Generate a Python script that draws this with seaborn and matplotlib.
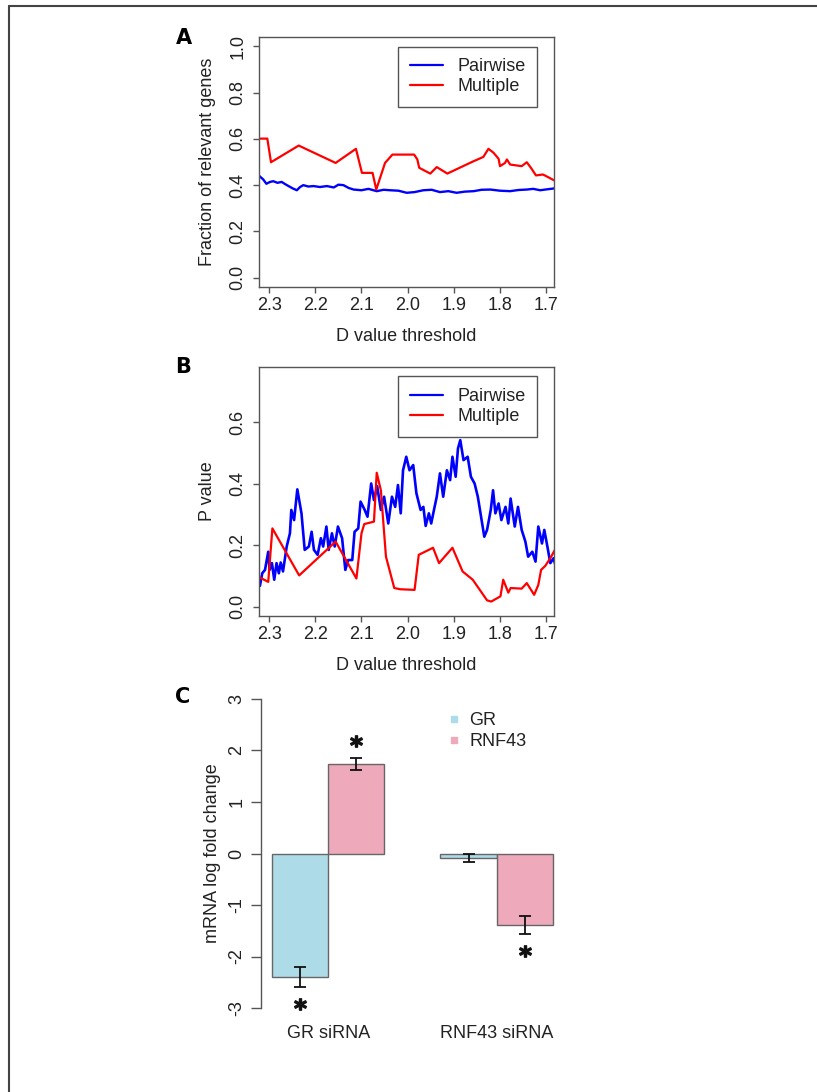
import numpy as np
import pandas as pd
import matplotlib
matplotlib.use("Agg")
import matplotlib.pyplot as plt
import seaborn as sns
from matplotlib.lines import Line2D

# ------------------------------------------------------------
# data
# ------------------------------------------------------------
# panel A - fraction of relevant genes
a_pair_x = [2.321, 2.313, 2.306, 2.298, 2.291, 2.282, 2.273, 2.265, 2.258, 2.249,
            2.240, 2.233, 2.226, 2.215, 2.204, 2.190, 2.175, 2.160, 2.150, 2.139,
            2.128, 2.117, 2.100, 2.085, 2.067, 2.052, 2.038, 2.020, 2.002, 1.985,
            1.966, 1.948, 1.930, 1.912, 1.894, 1.876, 1.857, 1.840, 1.821, 1.800,
            1.778, 1.760, 1.742, 1.728, 1.713, 1.698, 1.682]
a_pair_y = [0.439, 0.425, 0.406, 0.414, 0.417, 0.410, 0.414, 0.404, 0.396, 0.386,
            0.378, 0.392, 0.400, 0.394, 0.396, 0.392, 0.396, 0.390, 0.402, 0.400,
            0.388, 0.381, 0.378, 0.384, 0.374, 0.380, 0.378, 0.376, 0.367, 0.370,
            0.378, 0.380, 0.370, 0.374, 0.367, 0.372, 0.374, 0.380, 0.381, 0.376,
            0.374, 0.379, 0.381, 0.384, 0.378, 0.382, 0.386]
a_mult_x = [2.321, 2.304, 2.296, 2.236, 2.156, 2.112, 2.099, 2.076, 2.068, 2.049,
            2.033, 1.986, 1.979, 1.975, 1.951, 1.937, 1.914, 1.862, 1.836, 1.825,
            1.814, 1.803, 1.800, 1.789, 1.785, 1.778, 1.753, 1.742, 1.733, 1.722,
            1.707, 1.700, 1.682]
a_mult_y = [0.601, 0.601, 0.499, 0.571, 0.496, 0.557, 0.453, 0.453, 0.381, 0.496,
            0.532, 0.532, 0.511, 0.475, 0.450, 0.478, 0.450, 0.499, 0.522, 0.557,
            0.540, 0.514, 0.482, 0.496, 0.511, 0.489, 0.482, 0.499, 0.475, 0.442,
            0.446, 0.439, 0.420]

# panel B - P value
b_pair_x = [2.320, 2.315, 2.309, 2.302, 2.299, 2.294, 2.289, 2.284, 2.279, 2.275,
            2.270, 2.262, 2.255, 2.252, 2.246, 2.239, 2.230, 2.223, 2.214, 2.208,
            2.203, 2.195, 2.188, 2.183, 2.176, 2.171, 2.164, 2.158, 2.151, 2.142,
            2.135, 2.129, 2.120, 2.115, 2.107, 2.102, 2.093, 2.087, 2.079, 2.073,
            2.066, 2.058, 2.051, 2.042, 2.034, 2.027, 2.021, 2.015,
            2.010, 2.003, 1.996, 1.988, 1.981, 1.972, 1.966, 1.961, 1.954, 1.949,
            1.943, 1.937, 1.930, 1.923, 1.915, 1.908, 1.903, 1.896, 1.891, 1.886,
            1.879, 1.870, 1.863, 1.855, 1.848, 1.841, 1.834, 1.828, 1.820, 1.815,
            1.810, 1.803, 1.797, 1.788, 1.782, 1.777, 1.768, 1.761, 1.753, 1.745,
            1.739, 1.730, 1.723, 1.717, 1.709, 1.704, 1.696, 1.691, 1.684, 1.679]
b_pair_y = [0.068, 0.109, 0.120, 0.179, 0.120, 0.142, 0.088, 0.142, 0.109, 0.144,
            0.115, 0.196, 0.239, 0.315, 0.282, 0.382, 0.304, 0.185, 0.196, 0.244,
            0.185, 0.169, 0.223, 0.196, 0.261, 0.185, 0.239, 0.196, 0.261, 0.223,
            0.120, 0.152, 0.152, 0.244, 0.255, 0.342, 0.315, 0.293, 0.401, 0.347,
            0.392, 0.315, 0.358, 0.271, 0.358, 0.325, 0.396, 0.304,
            0.444, 0.488, 0.444, 0.461, 0.369, 0.315, 0.325, 0.263, 0.304, 0.271,
            0.315, 0.358, 0.434, 0.358, 0.444, 0.412, 0.488, 0.423, 0.515, 0.542,
            0.477, 0.488, 0.423, 0.401, 0.358, 0.293, 0.228, 0.250, 0.315, 0.379,
            0.304, 0.336, 0.282, 0.325, 0.271, 0.352, 0.261, 0.325, 0.250, 0.212,
            0.163, 0.179, 0.147, 0.261, 0.206, 0.250, 0.185, 0.142, 0.158, 0.131]
b_mult_x = [2.320, 2.302, 2.293, 2.235, 2.156, 2.111, 2.100, 2.094, 2.073, 2.067,
            2.058, 2.047, 2.029, 2.016, 1.985, 1.976, 1.945, 1.932, 1.903, 1.881,
            1.859, 1.828, 1.819, 1.799, 1.793, 1.782, 1.777, 1.753, 1.742, 1.726,
            1.717, 1.711, 1.702, 1.691, 1.680]
b_mult_y = [0.095, 0.081, 0.255, 0.102, 0.212, 0.092, 0.239, 0.269, 0.277, 0.436,
            0.379, 0.163, 0.061, 0.057, 0.055, 0.169, 0.192, 0.142, 0.192, 0.115,
            0.088, 0.021, 0.017, 0.034, 0.088, 0.046, 0.061, 0.059, 0.077, 0.039,
            0.071, 0.120, 0.133, 0.158, 0.188]

# panel C - qPCR
groups = ["GR siRNA", "RNF43 siRNA"]
genes = ["GR", "RNF43"]
gr_vals = [-2.40, -0.09]
rnf_vals = [1.74, -1.39]
gr_err = [0.20, 0.08]
rnf_err = [0.12, 0.17]
gr_sig = [True, False]
rnf_sig = [True, True]

# ------------------------------------------------------------
# style
# ------------------------------------------------------------
sns.set_style("ticks")
plt.rcParams['font.family'] = ['Liberation Sans', 'DejaVu Sans']
plt.rcParams['font.size'] = 13
AX_COL = '#555555'
TXT_COL = '#222222'
BLUE = '#0000FF'
RED = '#FF0000'
GR_COL = '#ADDCE8'
RNF_COL = '#EEA9BA'

W, H = 817, 1092
fig = plt.figure(figsize=(W / 100, H / 100), dpi=100)


def px_box(left, top, right, bottom):
    return [left / W, 1 - bottom / H, (right - left) / W, (bottom - top) / H]


def style_line_axes(ax, ylim, yticks, ylabel):
    ax.set_xlim(2.322, 1.683)
    ax.set_ylim(*ylim)
    ax.set_xticks([2.3, 2.2, 2.1, 2.0, 1.9, 1.8, 1.7])
    ax.set_xticklabels(["2.3", "2.2", "2.1", "2.0", "1.9", "1.8", "1.7"])
    ax.set_yticks(yticks)
    ax.set_yticklabels([f"{t:.1f}" for t in yticks], rotation=90, va='center')
    for sp in ax.spines.values():
        sp.set_visible(True)
        sp.set_color(AX_COL)
        sp.set_linewidth(1.0)
    ax.tick_params(axis='both', direction='out', length=4, width=1, color=AX_COL,
                   labelsize=13, labelcolor=TXT_COL)
    ax.tick_params(axis='x', pad=3)
    ax.tick_params(axis='y', pad=5)
    ax.set_xlabel("D value threshold", fontsize=13, color=TXT_COL)
    ax.set_ylabel(ylabel, fontsize=13, color=TXT_COL)
    ax.xaxis.set_label_coords(0.5, -0.164)
    ax.yaxis.set_label_coords(-0.146, 0.5)
    leg = ax.legend(handles=[Line2D([], [], color=BLUE, lw=1.6),
                             Line2D([], [], color=RED, lw=1.6)],
                    labels=["Pairwise", "Multiple"], loc='upper right',
                    bbox_to_anchor=(0.9424, 0.962), borderaxespad=0,
                    fancybox=False, edgecolor=AX_COL, framealpha=1,
                    handlelength=1.83, handletextpad=0.78, borderpad=0.65,
                    labelspacing=0.17, fontsize=13)
    leg.get_frame().set_linewidth(1.0)
    for t in leg.get_texts():
        t.set_color(TXT_COL)


# ---------------- panel A ----------------
axA = fig.add_axes(px_box(259, 37, 554, 287))
dfA_p = pd.DataFrame({'x': a_pair_x, 'y': a_pair_y})
dfA_m = pd.DataFrame({'x': a_mult_x, 'y': a_mult_y})
sns.lineplot(data=dfA_p, x='x', y='y', color=BLUE, lw=1.7, sort=False,
             estimator=None, ax=axA)
sns.lineplot(data=dfA_m, x='x', y='y', color=RED, lw=1.6, sort=False,
             estimator=None, ax=axA)
style_line_axes(axA, (-0.04, 1.04), [0.0, 0.2, 0.4, 0.6, 0.8, 1.0],
                "Fraction of relevant genes")

# ---------------- panel B ----------------
axB = fig.add_axes(px_box(259, 367, 554, 616))
dfB_p = pd.DataFrame({'x': b_pair_x, 'y': b_pair_y})
dfB_m = pd.DataFrame({'x': b_mult_x, 'y': b_mult_y})
sns.lineplot(data=dfB_p, x='x', y='y', color=BLUE, lw=1.9, sort=False,
             estimator=None, ax=axB)
sns.lineplot(data=dfB_m, x='x', y='y', color=RED, lw=1.6, sort=False,
             estimator=None, ax=axB)
style_line_axes(axB, (-0.03, 0.78), [0.0, 0.2, 0.4, 0.6], "P value")

# ---------------- panel C ----------------
axC = fig.add_axes(px_box(260.8, 686.6, 564, 1020.4))
dfC = pd.DataFrame({
    'group': groups * 2,
    'gene': [genes[0]] * 2 + [genes[1]] * 2,
    'value': gr_vals + rnf_vals,
})
sns.barplot(data=dfC, x='group', y='value', hue='gene', order=groups,
            hue_order=genes, palette=[GR_COL, RNF_COL], saturation=1,
            width=2 / 3, edgecolor='#666666', linewidth=1.0, errorbar=None,
            legend=False, ax=axC)

for cont, errs, sigs in zip(axC.containers, [gr_err, rnf_err], [gr_sig, rnf_sig]):
    for bar, e, s in zip(cont, errs, sigs):
        cx = bar.get_x() + bar.get_width() / 2
        end = bar.get_y() + bar.get_height()
        axC.errorbar(cx, end, yerr=e, color='#111111', elinewidth=1.3,
                     capsize=4.6, capthick=1.3, fmt='none')
        if s:
            sgn = 1 if end > 0 else -1
            axC.plot(cx, end + sgn * (e + 0.33), ls='none', marker=r'$\mathbf{*}$',
                     ms=8.5, color='#111111')

axC.set_xlim(-0.4, 1.4)
axC.set_ylim(-3.24, 3.24)
axC.set_yticks([-3, -2, -1, 0, 1, 2, 3])
axC.set_yticklabels(["-3", "-2", "-1", "0", "1", "2", "3"], rotation=90, va='center')
sns.despine(ax=axC, bottom=True)
axC.spines['left'].set_bounds(-3, 3)
axC.spines['left'].set_color(AX_COL)
axC.spines['left'].set_linewidth(1.0)
axC.tick_params(axis='y', direction='out', length=7, width=1, color=AX_COL,
                labelsize=13, labelcolor=TXT_COL, pad=4)
axC.tick_params(axis='x', length=0, labelsize=13, labelcolor=TXT_COL, pad=3)
axC.set_xlabel("")
axC.set_ylabel("mRNA log fold change", fontsize=13, color=TXT_COL)
axC.yaxis.set_label_coords(-0.131, 0.5)
legC = axC.legend(handles=[Line2D([], [], ls='none', marker='s', ms=5, color=GR_COL),
                           Line2D([], [], ls='none', marker='s', ms=5, color=RNF_COL)],
                  labels=genes, loc='upper left',
                  bbox_to_anchor=(445 / W, 1 - 712 / H), bbox_transform=fig.transFigure,
                  frameon=False, borderpad=0, borderaxespad=0, handlelength=1.0,
                  handletextpad=0.33, labelspacing=0.22, fontsize=13)
for t in legC.get_texts():
    t.set_color(TXT_COL)

# panel letters
for letter, (lx, ly) in zip("ABC", [(184, 38), (183, 367), (183, 697)]):
    fig.text(lx / W, 1 - ly / H, letter, ha='center', va='center', fontsize=15,
             fontweight='bold', family='DejaVu Sans', color='black')

# frame on top and left of the figure
fig.add_artist(Line2D([9 / W, 9 / W], [0, 1 - 6 / H], transform=fig.transFigure,
                      color='#444444', lw=1.5))
fig.add_artist(Line2D([9 / W, 1], [1 - 6 / H, 1 - 6 / H], transform=fig.transFigure,
                      color='#444444', lw=1.5))

fig.savefig("out.png", dpi=100, facecolor='white')
